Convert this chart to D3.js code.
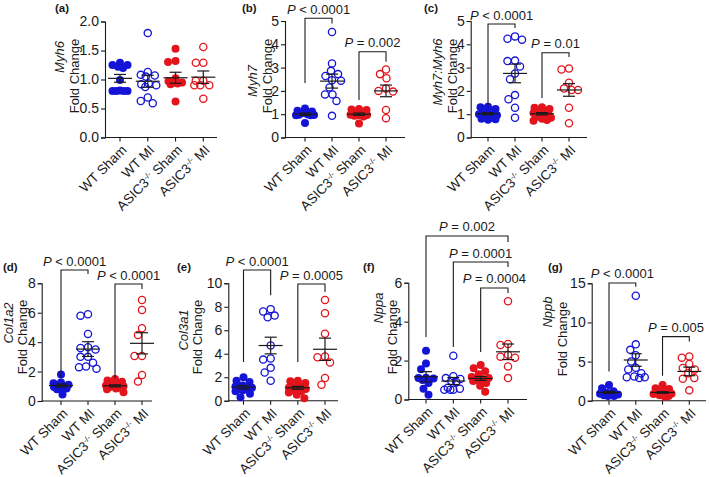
<!DOCTYPE html>
<html>
<head>
<meta charset="utf-8">
<script src="https://cdn.jsdelivr.net/npm/d3@7"></script>
<style>
  body { margin: 0; background: #fff; }
  svg { display: block; }
  text { font-family: "Liberation Sans", Arial, sans-serif; fill: #1a1a1a; }
</style>
</head>
<body>
<div class="chart"></div>
<script>
var groups = ["WT Sham", "WT MI", "ASIC3 Sham", "ASIC3 MI"];

// fold change per animal, one array per group (WT Sham, WT MI, ASIC3-/- Sham, ASIC3-/- MI)
var myh6 = [
  [1.29, 1.25, 1.25, 1.22, 1.2, 0.99, 0.81, 0.8, 0.8, 0.8, 0.8],
  [1.8, 1.13, 1.08, 1.07, 1.05, 0.93, 0.92, 0.9, 0.87, 0.69, 0.63, 0.59],
  [1.53, 1.32, 1.3, 1.02, 0.97, 0.95, 0.95, 0.93, 0.92, 0.62],
  [1.56, 1.29, 1.29, 0.98, 0.98, 0.9, 0.9, 0.9, 0.67]
];
var myh6Mean = [1.02, 0.97, 1.03, 1.04];
var myh6Sem = [0.067, 0.104, 0.095, 0.107];

var myh7 = [
  [1.25, 1.15, 1.12, 1.05, 1.0, 0.98, 0.97, 0.95, 0.95, 0.62],
  [4.53, 3.18, 2.86, 2.72, 2.64, 2.46, 2.44, 2.15, 1.85, 1.85, 1.57, 0.93],
  [1.22, 1.2, 1.18, 1.05, 1.0, 0.98, 0.97, 0.95, 0.93, 0.9, 0.6],
  [2.92, 2.72, 2.54, 2.1, 2.0, 1.97, 1.18, 0.83]
];
var myh7Mean = [1.0, 2.42, 1.0, 2.0];
var myh7Sem = [0.05, 0.3, 0.05, 0.25];

var ratio = [
  [1.32, 1.3, 1.22, 1.18, 1.1, 1.0, 0.95, 0.9, 0.85, 0.8, 0.78, 0.76],
  [4.34, 4.24, 4.2, 3.3, 3.28, 3.05, 2.75, 2.5, 1.82, 1.64, 1.28, 0.85],
  [1.3, 1.28, 1.22, 1.15, 1.1, 1.05, 1.0, 0.95, 0.92, 0.88, 0.85, 0.8, 0.75, 0.72],
  [2.96, 2.92, 2.35, 2.1, 2.04, 2.04, 1.28, 0.61]
];
var ratioMean = [1.02, 2.75, 1.02, 2.04];
var ratioSem = [0.05, 0.4, 0.05, 0.27];

var col1a2 = [
  [1.8, 1.25, 1.2, 1.1, 1.05, 1.0, 0.95, 0.9, 0.85, 0.8, 0.45],
  [5.9, 5.8, 4.56, 3.65, 3.6, 3.5, 3.0, 3.0, 2.6, 2.35, 2.3, 2.2],
  [1.5, 1.4, 1.3, 1.2, 1.1, 1.05, 1.0, 1.0, 0.95, 0.9, 0.85, 0.8, 0.6],
  [6.87, 6.19, 4.94, 4.49, 3.06, 3.06, 1.77, 1.32]
];
var col1a2Mean = [1.05, 3.53, 1.03, 3.92];
var col1a2Sem = [0.1, 0.5, 0.07, 0.72];

var col3a1 = [
  [2.0, 1.7, 1.6, 1.3, 1.2, 1.1, 1.0, 1.0, 0.9, 0.8, 0.6, 0.3],
  [7.8, 7.6, 7.25, 7.1, 4.7, 3.6, 3.5, 2.8, 2.4, 1.7],
  [1.7, 1.65, 1.5, 1.3, 1.2, 1.1, 1.0, 1.0, 0.9, 0.8, 0.7, 0.5, 0.2],
  [8.58, 7.45, 5.7, 3.77, 3.7, 3.26, 1.93, 1.36]
];
var col3a1Mean = [1.15, 4.7, 1.1, 4.38];
var col3a1Sem = [0.15, 0.71, 0.12, 0.95];

var nppa = [
  [2.5, 1.85, 1.55, 1.12, 1.1, 1.08, 1.0, 0.85, 0.55, 0.25],
  [2.25, 1.2, 1.1, 1.05, 0.95, 0.9, 0.6, 0.55, 0.5, 0.5, 0.5],
  [1.77, 1.6, 1.45, 1.3, 1.15, 1.1, 1.05, 1.0, 0.95, 0.85, 0.7, 0.4],
  [5.05, 2.85, 2.8, 2.3, 2.2, 2.15, 1.7, 1.1]
];
var nppaMean = [1.17, 0.95, 1.08, 2.45];
var nppaSem = [0.26, 0.18, 0.1, 0.4];

var nppb = [
  [2.0, 1.6, 1.2, 1.0, 0.9, 0.8, 0.8, 0.7, 0.6, 0.6],
  [13.4, 7.2, 6.5, 5.8, 5.0, 4.2, 4.0, 3.5, 3.1, 3.0, 3.0, 2.9],
  [2.0, 1.6, 1.5, 1.3, 1.1, 1.0, 0.9, 0.85, 0.8, 0.7, 0.6, 0.5],
  [5.66, 5.5, 4.7, 4.17, 4.0, 3.5, 2.9, 2.8, 1.32]
];
var nppbMean = [1.06, 5.2, 1.05, 3.74];
var nppbSem = [0.12, 0.8, 0.1, 0.55];

var blue = "#1414d6";
var red = "#e3141c";
var groupColor = [blue, blue, red, red];
var groupFilled = [true, false, true, false];

var panels = [
  { tag: "(a)", gene: "Myh6", vals: myh6, mean: myh6Mean, sem: myh6Sem, max: 2, ticks: [0, 0.5, 1, 1.5, 2], fmt: ".1f",
    ax: [105, 217], cx: [120, 203.3], yr: [137.5, 21.5], tagPos: [55, 12], genePos: [59, 57], foldPos: [74, 76], brackets: [] },
  { tag: "(b)", gene: "Myh7", vals: myh7, mean: myh7Mean, sem: myh7Sem, max: 5, ticks: [0, 1, 2, 3, 4, 5], fmt: "d",
    ax: [285, 405], cx: [305, 386], yr: [137.5, 21], tagPos: [242, 12], genePos: [252, 81], foldPos: [267, 76],
    brackets: [{ a: 0, b: 1, p: "< 0.0001", top: 5.12, left: 2.34, right: 4.89 },
               { a: 2, b: 3, p: "= 0.002", top: 3.68, left: 1.61, right: 3.25 }] },
  { tag: "(c)", gene: "Myh7:Myh6", vals: ratio, mean: ratioMean, sem: ratioSem, max: 5, ticks: [0, 1, 2, 3, 4, 5], fmt: "d",
    ax: [470.7, 587], cx: [488, 569], yr: [137.5, 21], tagPos: [424, 12], genePos: [437, 72], foldPos: [452, 76],
    brackets: [{ a: 0, b: 1, p: "< 0.0001", top: 4.87, left: 1.4, right: 4.7 },
               { a: 2, b: 3, p: "= 0.01", top: 3.64, left: 1.7, right: 3.45 }] },
  { tag: "(d)", gene: "Col1a2", vals: col1a2, mean: col1a2Mean, sem: col1a2Sem, max: 8, ticks: [0, 2, 4, 6, 8], fmt: "d",
    ax: [41.7, 152], cx: [61, 142], yr: [401, 283.3], tagPos: [3, 271], genePos: [8.5, 323], foldPos: [22, 337],
    brackets: [{ a: 0, b: 1, p: "< 0.0001", top: 8.9, left: 1.56, right: 8.63 },
               { a: 2, b: 3, p: "< 0.0001", top: 7.95, left: 1.56, right: 7.61 }] },
  { tag: "(e)", gene: "Col3a1", vals: col3a1, mean: col3a1Mean, sem: col3a1Sem, max: 10, ticks: [0, 2, 4, 6, 8, 10], fmt: "d",
    ax: [228.3, 338], cx: [243.5, 325], yr: [400.7, 283.3], tagPos: [177, 271], genePos: [183.5, 330], foldPos: [197, 337],
    brackets: [{ a: 0, b: 1, p: "< 0.0001", top: 11.13, left: 3.3, right: 8.98 },
               { a: 2, b: 3, p: "= 0.0005", top: 9.94, left: 3.3, right: 9.26 }] },
  { tag: "(f)", gene: "Nppa", vals: nppa, mean: nppaMean, sem: nppaSem, max: 6, ticks: [0, 2, 4, 6], fmt: "d",
    ax: [408.3, 527], cx: [426, 508], yr: [399.5, 282.7], tagPos: [363, 271], genePos: [378, 308], foldPos: [392, 337],
    brackets: [{ a: 0, b: 3, p: "= 0.002", top: 8.4, left: 3.21, right: 8.09 },
               { a: 1, b: 3, p: "= 0.0001", top: 7.06, left: 2.7, right: 6.81 },
               { a: 2, b: 3, p: "= 0.0004", top: 5.73, left: 2.44, right: 5.47 }] },
  { tag: "(g)", gene: "Nppb", vals: nppb, mean: nppbMean, sem: nppbSem, max: 15, ticks: [0, 5, 10, 15], fmt: "d",
    ax: [591.7, 706], cx: [609, 689.3], yr: [400.7, 283.3], tagPos: [548, 271], genePos: [547.5, 312], foldPos: [562, 339],
    brackets: [{ a: 0, b: 1, p: "< 0.0001", top: 15.04, left: 3.73, right: 14.57 },
               { a: 2, b: 3, p: "= 0.005", top: 8.19, left: 3.19, right: 7.56 }] }
];

var svg = d3.select(".chart").append("svg")
  .attr("width", 709)
  .attr("height", 477);

// spread points sideways inside a narrow column, overlapping when crowded
function swarm(vals, y, r, maxOff) {
  var pts = vals.map(function (v) { return { v: v, py: y(v), dx: 0 }; })
    .sort(function (a, b) { return a.py - b.py; });
  var placed = [];
  var minD = 2 * r - 0.5;
  var cands = [0];
  for (var k = 0.5; k <= maxOff; k += 0.5) { cands.push(-k, k); }
  pts.forEach(function (p) {
    var best = null, bestD = -1;
    for (var i = 0; i < cands.length; i++) {
      var off = cands[i];
      var dmin = d3.min(placed, function (q) {
        return Math.hypot(q.dx - off, q.py - p.py);
      });
      if (dmin === undefined) dmin = Infinity;
      if (dmin >= minD) { best = off; break; }
      if (dmin > bestD + 0.3) { bestD = dmin; best = off; }
    }
    p.dx = best;
    placed.push(p);
  });
  return placed;
}

panels.forEach(function (pn) {
  var g = svg.append("g");
  var y = d3.scaleLinear().domain([0, pn.max]).range(pn.yr);
  var x = d3.scalePoint().domain(groups).range(pn.cx);
  var y0 = pn.yr[0];

  // y axis
  var yAxis = g.append("g")
    .attr("transform", "translate(" + pn.ax[0] + ",0)")
    .call(d3.axisLeft(y).tickValues(pn.ticks).tickFormat(d3.format(pn.fmt)).tickSize(4).tickPadding(2));
  yAxis.select(".domain").attr("stroke", "#1a1a1a").attr("stroke-width", 1.1);
  yAxis.selectAll(".tick line").attr("stroke", "#1a1a1a").attr("stroke-width", 1.1);
  yAxis.selectAll(".tick text").attr("font-size", 14).attr("font-family", null).attr("fill", "#1a1a1a");

  // x axis
  g.append("line")
    .attr("x1", pn.ax[0]).attr("x2", pn.ax[1])
    .attr("y1", y0).attr("y2", y0)
    .attr("stroke", "#1a1a1a").attr("stroke-width", 1.1);
  g.selectAll(".xt").data(groups).enter().append("line")
    .attr("x1", function (d) { return x(d); }).attr("x2", function (d) { return x(d); })
    .attr("y1", y0).attr("y2", y0 + 4)
    .attr("stroke", "#1a1a1a").attr("stroke-width", 1.1);

  var lab = g.selectAll(".xl").data(groups).enter().append("text")
    .attr("transform", function (d) { return "translate(" + (x(d) + 4) + "," + (y0 + 10) + ") rotate(-45)"; })
    .attr("text-anchor", "end")
    .attr("dy", "0.35em")
    .attr("font-size", 13.5);
  lab.each(function (d) {
    var t = d3.select(this);
    var parts = d.split(" ");
    if (parts[0] === "ASIC3") {
      t.append("tspan").text("ASIC3");
      t.append("tspan").attr("font-size", 8).attr("dy", "-5").text("-/-");
      t.append("tspan").attr("dy", "5").text(" " + parts[1]);
    } else {
      t.text(d);
    }
  });

  // points
  pn.vals.forEach(function (vals, i) {
    var pts = swarm(vals, y, 4, 9);
    g.append("g").selectAll("circle").data(pts).enter().append("circle")
      .attr("cx", function (d) { return x(groups[i]) + d.dx; })
      .attr("cy", function (d) { return d.py; })
      .attr("r", groupFilled[i] ? 4 : 3.6)
      .attr("fill", groupFilled[i] ? groupColor[i] : "none")
      .attr("stroke", groupColor[i])
      .attr("stroke-width", groupFilled[i] ? 0 : 1.3);
  });

  // mean +/- SEM
  pn.mean.forEach(function (m, i) {
    var cx = x(groups[i]);
    var s = pn.sem[i];
    var e = g.append("g").attr("stroke", "#1a1a1a").attr("stroke-width", 1.2);
    e.append("line").attr("x1", cx - 12).attr("x2", cx + 12).attr("y1", y(m)).attr("y2", y(m));
    e.append("line").attr("x1", cx).attr("x2", cx).attr("y1", y(m + s)).attr("y2", y(m - s));
    e.append("line").attr("x1", cx - 6).attr("x2", cx + 6).attr("y1", y(m + s)).attr("y2", y(m + s));
    e.append("line").attr("x1", cx - 6).attr("x2", cx + 6).attr("y1", y(m - s)).attr("y2", y(m - s));
  });

  // significance brackets
  pn.brackets.forEach(function (b) {
    var xa = x(groups[b.a]), xb = x(groups[b.b]);
    g.append("path")
      .attr("d", "M" + xa + "," + y(b.left) + "V" + y(b.top) + "H" + xb + "V" + y(b.right))
      .attr("fill", "none").attr("stroke", "#1a1a1a").attr("stroke-width", 1.1);
    var t = g.append("text")
      .attr("x", (xa + xb) / 2).attr("y", y(b.top) - 4.5)
      .attr("text-anchor", "middle").attr("font-size", 13);
    t.append("tspan").attr("font-style", "italic").text("P");
    t.append("tspan").text(" " + b.p);
  });

  // y label (gene + Fold Change)
  g.append("text")
    .attr("transform", "translate(" + pn.genePos[0] + "," + pn.genePos[1] + ") rotate(-90)")
    .attr("text-anchor", "middle").attr("dy", "0.35em")
    .attr("font-size", 13).attr("font-style", "italic")
    .text(pn.gene);
  g.append("text")
    .attr("transform", "translate(" + pn.foldPos[0] + "," + pn.foldPos[1] + ") rotate(-90)")
    .attr("text-anchor", "middle").attr("dy", "0.35em")
    .attr("font-size", 13)
    .text("Fold Change");

  // panel tag
  g.append("text")
    .attr("x", pn.tagPos[0]).attr("y", pn.tagPos[1])
    .attr("font-size", 11.5).attr("font-weight", "bold")
    .text(pn.tag);
});
</script>
</body>
</html>
